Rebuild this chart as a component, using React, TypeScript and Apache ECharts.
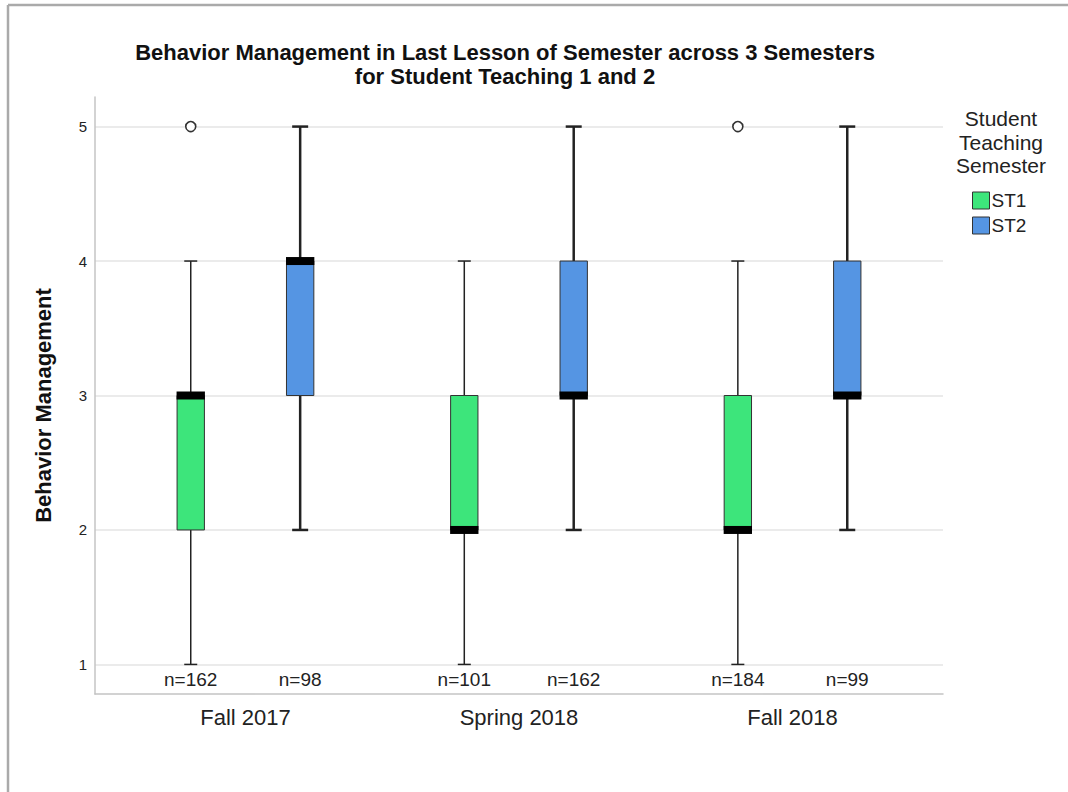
import React, { useEffect, useRef } from "react";
import * as echarts from "echarts";

const categories = ["Fall 2017", "Spring 2018", "Fall 2018"];
const yTicks = [1, 2, 3, 4, 5];

const st1Min = [1, 1, 1];
const st1Q1 = [2, 2, 2];
const st1Median = [3, 2, 2];
const st1Q3 = [3, 3, 3];
const st1Max = [4, 4, 4];
const st1N = [162, 101, 184];
const st1OutlierCat = [0, 2];
const st1OutlierVal = [5, 5];

const st2Min = [2, 2, 2];
const st2Q1 = [3, 3, 3];
const st2Median = [4, 3, 3];
const st2Q3 = [4, 4, 4];
const st2Max = [5, 5, 5];
const st2N = [98, 162, 99];

const FONT = "'Liberation Sans', Arial, Helvetica, sans-serif";
const Y_MIN = 0.78;
const Y_MAX = 5.22;

function boxSeries(
  name: string,
  color: string,
  offset: number,
  mins: number[],
  q1s: number[],
  meds: number[],
  q3s: number[],
  maxs: number[],
  ns: number[],
  whiskerW: number,
  capW: number
) {
  return {
    type: "custom",
    name,
    itemStyle: { color, borderColor: "#333", borderWidth: 1 },
    encode: { x: 0, y: [1, 2, 3, 4, 5] },
    data: categories.map((_, i) => [i, mins[i], q1s[i], meds[i], q3s[i], maxs[i], ns[i]]),
    renderItem: (params: any, api: any) => {
      const xv = api.value(0) + offset;
      const xc = api.coord([xv, 0])[0];
      const yMin = api.coord([xv, api.value(1)])[1];
      const yQ1 = api.coord([xv, api.value(2)])[1];
      const yMed = api.coord([xv, api.value(3)])[1];
      const yQ3 = api.coord([xv, api.value(4)])[1];
      const yMax = api.coord([xv, api.value(5)])[1];
      const yBottom = api.coord([xv, Y_MIN])[1];
      const bw = api.size([0.1, 0])[0];
      const half = bw / 2;
      const lineStyle = { stroke: "#222", lineWidth: whiskerW };
      return {
        type: "group",
        children: [
          { type: "line", shape: { x1: xc, y1: yMax, x2: xc, y2: yQ3 }, style: lineStyle },
          { type: "line", shape: { x1: xc, y1: yQ1, x2: xc, y2: yMin }, style: lineStyle },
          { type: "line", shape: { x1: xc - capW / 2, y1: yMax, x2: xc + capW / 2, y2: yMax }, style: lineStyle },
          { type: "line", shape: { x1: xc - capW / 2, y1: yMin, x2: xc + capW / 2, y2: yMin }, style: lineStyle },
          {
            type: "rect",
            shape: { x: xc - half, y: yQ3, width: bw, height: yQ1 - yQ3 },
            style: { fill: color, stroke: "#333", lineWidth: 1 },
          },
          {
            type: "rect",
            shape: { x: xc - half - 0.5, y: yMed - 4, width: bw + 1, height: 8 },
            style: { fill: "#000" },
          },
          {
            type: "text",
            style: {
              text: "n=" + api.value(6),
              x: xc,
              y: yBottom - 15,
              align: "center",
              verticalAlign: "middle",
              fontSize: 19,
              fontFamily: FONT,
              fill: "#222",
            },
          },
        ],
      };
    },
  };
}

export default function App() {
  const ref = useRef<HTMLDivElement>(null);
  useEffect(() => {
    if (!ref.current) return;
    const chart = echarts.init(ref.current, undefined, { renderer: "svg" });
    const option: any = {
      animation: false,
      backgroundColor: "#fff",
      title: {
        text: "Behavior Management in Last Lesson of Semester across 3 Semesters\nfor Student Teaching 1 and 2",
        left: 500,
        top: 35,
        textAlign: "center",
        textStyle: {
          fontSize: 22,
          fontWeight: "bold",
          fontFamily: FONT,
          color: "#111",
          lineHeight: 24,
        },
      },
      legend: {
        data: ["ST1", "ST2"],
        orient: "vertical",
        left: 972,
        top: 191,
        padding: 0,
        itemWidth: 17,
        itemHeight: 17,
        itemGap: 6,
        icon: "rect",
        itemStyle: { borderColor: "#333", borderWidth: 1 },
        textStyle: { fontSize: 19, fontFamily: FONT, color: "#222", padding: [0, 0, 0, -3] },
      },
      graphic: [
        { type: "line", shape: { x1: 8, y1: 5, x2: 1068, y2: 5 }, style: { stroke: "#aaa", lineWidth: 2.5 } },
        { type: "line", shape: { x1: 8, y1: 5, x2: 8, y2: 792 }, style: { stroke: "#aaa", lineWidth: 2.5 } },
        {
          type: "text",
          x: 1001,
          y: 107,
          style: {
            text: "Student\nTeaching\nSemester",
            align: "center",
            fontSize: 21,
            lineHeight: 23.5,
            fontFamily: FONT,
            fill: "#222",
          },
        },
      ],
      grid: { left: 95, top: 97, right: 125, bottom: 98 },
      xAxis: {
        type: "value",
        min: -0.55,
        max: 2.55,
        axisLine: { show: true, onZero: false, lineStyle: { color: "#c4c4c4", width: 1.5 } },
        axisTick: { show: false, customValues: [0, 1, 2] },
        splitLine: { show: false },
        axisLabel: {
          customValues: [0, 1, 2],
          formatter: (v: number) => categories[Math.round(v)],
          fontSize: 22,
          fontFamily: FONT,
          color: "#222",
          margin: 12,
        },
      },
      yAxis: {
        type: "value",
        min: Y_MIN,
        max: Y_MAX,
        name: "Behavior Management",
        nameLocation: "middle",
        nameGap: 41,
        nameTextStyle: {
          fontSize: 22,
          fontWeight: "bold",
          fontFamily: FONT,
          color: "#111",
          padding: [0, 20, 0, 0],
        },
        axisLine: { show: true, onZero: false, lineStyle: { color: "#c4c4c4", width: 1.5 } },
        axisTick: { show: false, customValues: yTicks },
        splitLine: { show: true, lineStyle: { color: "#e4e4e4", width: 1.5 } },
        axisLabel: {
          customValues: yTicks,
          fontSize: 15,
          fontFamily: FONT,
          color: "#222",
          margin: 8,
        },
      },
      series: [
        boxSeries("ST1", "#3de57b", -0.2, st1Min, st1Q1, st1Median, st1Q3, st1Max, st1N, 1.5, 13),
        boxSeries("ST2", "#5595e3", 0.2, st2Min, st2Q1, st2Median, st2Q3, st2Max, st2N, 2.5, 16),
        {
          type: "custom",
          name: "ST1 outliers",
          encode: { x: 0, y: 1 },
          data: st1OutlierCat.map((c, i) => [c, st1OutlierVal[i]]),
          renderItem: (params: any, api: any) => {
            const p = api.coord([api.value(0) - 0.2, api.value(1)]);
            return {
              type: "circle",
              shape: { cx: p[0], cy: p[1], r: 5 },
              style: { fill: "#fff", stroke: "#333", lineWidth: 1.6 },
            };
          },
        },
      ],
    };
    chart.setOption(option);
    return () => chart.dispose();
  }, []);
  return (
    <div
      ref={ref}
      style={{ position: "fixed", left: 0, top: 0, width: 1068, height: 792, background: "#fff" }}
    />
  );
}
